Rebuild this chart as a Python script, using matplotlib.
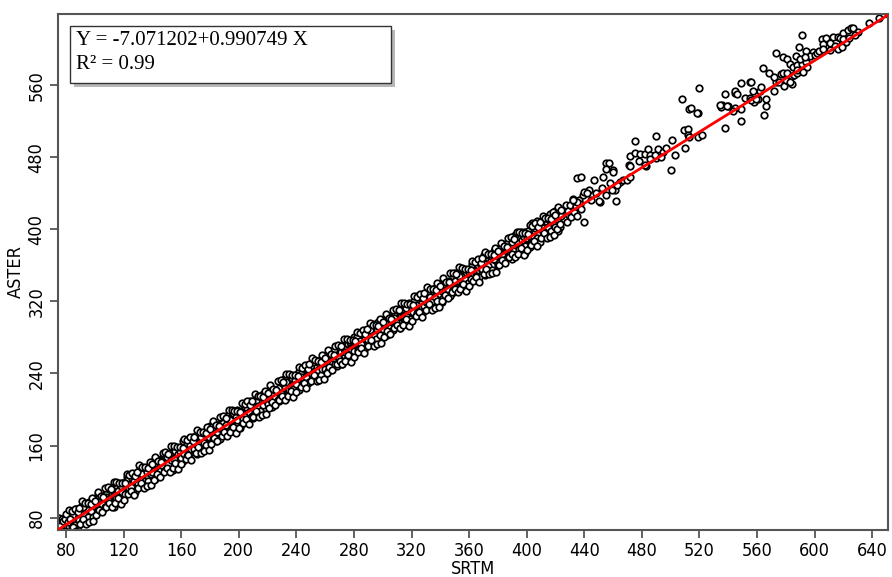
import matplotlib
matplotlib.use("Agg")
import matplotlib.pyplot as plt
from matplotlib.patches import Rectangle
from matplotlib import font_manager

# ---------------- data ----------------
intercept = -7.071202
slope = 0.990749
r2_text = "R\u00b2 = 0.99"
eq_text = "Y = -7.071202+0.990749 X"

x_ticks = [80, 120, 160, 200, 240, 280, 320, 360, 400, 440, 480, 520, 560, 600, 640]
y_ticks = [80, 160, 240, 320, 400, 480, 560]

# dense band: SRTM values 75..439
srtm_band = [
    75, 76, 77, 78, 79, 80, 81, 82, 83, 84, 85, 86, 87, 88, 89, 90, 91, 92, 93, 94,
    95, 96, 97, 98, 99, 100, 101, 102, 103, 104, 105, 106, 107, 108, 109, 110, 111, 112, 113, 114,
    115, 116, 117, 118, 119, 120, 121, 122, 123, 124, 125, 126, 127, 128, 129, 130, 131, 132, 133, 134,
    135, 136, 137, 138, 139, 140, 141, 142, 143, 144, 145, 146, 147, 148, 149, 150, 151, 152, 153, 154,
    155, 156, 157, 158, 159, 160, 161, 162, 163, 164, 165, 166, 167, 168, 169, 170, 171, 172, 173, 174,
    175, 176, 177, 178, 179, 180, 181, 182, 183, 184, 185, 186, 187, 188, 189, 190, 191, 192, 193, 194,
    195, 196, 197, 198, 199, 200, 201, 202, 203, 204, 205, 206, 207, 208, 209, 210, 211, 212, 213, 214,
    215, 216, 217, 218, 219, 220, 221, 222, 223, 224, 225, 226, 227, 228, 229, 230, 231, 232, 233, 234,
    235, 236, 237, 238, 239, 240, 241, 242, 243, 244, 245, 246, 247, 248, 249, 250, 251, 252, 253, 254,
    255, 256, 257, 258, 259, 260, 261, 262, 263, 264, 265, 266, 267, 268, 269, 270, 271, 272, 273, 274,
    275, 276, 277, 278, 279, 280, 281, 282, 283, 284, 285, 286, 287, 288, 289, 290, 291, 292, 293, 294,
    295, 296, 297, 298, 299, 300, 301, 302, 303, 304, 305, 306, 307, 308, 309, 310, 311, 312, 313, 314,
    315, 316, 317, 318, 319, 320, 321, 322, 323, 324, 325, 326, 327, 328, 329, 330, 331, 332, 333, 334,
    335, 336, 337, 338, 339, 340, 341, 342, 343, 344, 345, 346, 347, 348, 349, 350, 351, 352, 353, 354,
    355, 356, 357, 358, 359, 360, 361, 362, 363, 364, 365, 366, 367, 368, 369, 370, 371, 372, 373, 374,
    375, 376, 377, 378, 379, 380, 381, 382, 383, 384, 385, 386, 387, 388, 389, 390, 391, 392, 393, 394,
    395, 396, 397, 398, 399, 400, 401, 402, 403, 404, 405, 406, 407, 408, 409, 410, 411, 412, 413, 414,
    415, 416, 417, 418, 419, 420, 421, 422, 423, 424, 425, 426, 427, 428, 429, 430, 431, 432, 433, 434,
    435, 436, 437, 438, 439,
]

aster_band_a = [
    70, 66, 75, 66, 72, 80, 67, 76, 74, 81,
    74, 85, 81, 71, 85, 81, 93, 79, 86, 92,
    89, 84, 97, 89, 96, 85, 96, 106, 92, 96,
    101, 90, 100, 106, 98, 112, 94, 102, 92, 113,
    113, 107, 111, 100, 119, 108, 114, 125, 111, 118,
    118, 126, 115, 123, 113, 127, 122, 136, 121, 130,
    134, 126, 133, 121, 133, 142, 127, 139, 133, 138,
    138, 130, 147, 135, 144, 139, 145, 133, 151, 145,
    151, 144, 149, 157, 144, 154, 143, 160, 153, 165,
    159, 152, 165, 158, 169, 153, 164, 159, 170, 166,
    164, 173, 169, 160, 174, 182, 166, 175, 173, 182,
    180, 169, 184, 179, 177, 190, 176, 186, 196, 183,
    193, 184, 190, 183, 200, 190, 196, 184, 199, 193,
    197, 191, 206, 196, 204, 191, 208, 205, 199, 214,
    210, 205, 217, 202, 211, 217, 208, 216, 203, 220,
    222, 216, 221, 210, 228, 213, 224, 235, 213, 225,
    228, 235, 223, 230, 221, 237, 230, 237, 227, 245,
    241, 234, 248, 230, 242, 240, 248, 238, 247, 235,
    248, 239, 248, 257, 244, 255, 240, 253, 259, 252,
    261, 254, 261, 248, 268, 261, 256, 265, 260, 272,
    267, 273, 261, 272, 265, 281, 263, 273, 278, 270,
    279, 271, 279, 287, 270, 286, 280, 285, 277, 294,
    286, 292, 283, 291, 281, 299, 289, 297, 283, 296,
    303, 293, 302, 292, 300, 311, 296, 304, 304, 310,
    308, 300, 316, 306, 313, 302, 317, 313, 308, 326,
    320, 314, 318, 308, 326, 323, 315, 329, 322, 328,
    327, 335, 320, 332, 324, 334, 319, 331, 339, 330,
    341, 332, 340, 329, 340, 352, 334, 344, 343, 352,
    348, 338, 354, 345, 353, 339, 352, 358, 348, 354,
    363, 352, 358, 349, 364, 359, 349, 364, 368, 358,
    366, 360, 376, 366, 375, 360, 374, 368, 384, 367,
    371, 383, 369, 381, 379, 367, 390, 380, 388, 375,
    391, 381, 388, 397, 381, 394, 389, 380, 394, 407,
    397, 386, 409, 394, 404, 400, 393, 414, 401, 408,
    412, 400, 408, 396, 414, 420, 406, 411, 403, 417,
    420, 411, 427, 408, 420, 427, 414, 434, 419, 426, 415, 433, 428, 423, 438,
]

aster_band_b = [
    66, 72, 68, 79, 67, 72, 77, 71, 82, 68,
    82, 72, 90, 80, 77, 85, 75, 92, 83, 75,
    81, 97, 87, 94, 81, 98, 92, 89, 102, 99,
    95, 103, 92, 103, 101, 98, 113, 95, 109, 105,
    102, 110, 99, 115, 109, 119, 106, 118, 124, 113,
    114, 124, 121, 109, 128, 117, 132, 124, 128, 119,
    121, 131, 121, 135, 128, 131, 140, 123, 145, 131,
    132, 143, 137, 150, 133, 147, 140, 152, 144, 133,
    145, 154, 138, 151, 154, 146, 165, 151, 160, 148,
    149, 161, 156, 169, 156, 162, 151, 171, 161, 170,
    174, 163, 161, 172, 169, 176, 181, 167, 178, 165,
    175, 179, 167, 186, 185, 177, 183, 174, 190, 188,
    181, 196, 180, 192, 188, 197, 180, 194, 190, 203,
    194, 202, 197, 210, 193, 204, 198, 210, 204, 196,
    198, 214, 205, 211, 220, 206, 220, 212, 218, 209,
    213, 221, 211, 224, 218, 230, 212, 224, 231, 220,
    222, 226, 235, 223, 233, 228, 241, 222, 239, 236,
    230, 245, 236, 243, 231, 248, 239, 253, 243, 247,
    244, 252, 238, 245, 256, 245, 255, 243, 253, 265,
    251, 266, 250, 260, 258, 252, 264, 250, 267, 264,
    256, 263, 275, 267, 275, 265, 274, 281, 266, 276,
    273, 284, 266, 279, 284, 277, 288, 275, 295, 283,
    278, 289, 297, 283, 291, 289, 298, 283, 297, 291,
    290, 298, 288, 302, 297, 293, 310, 291, 310, 304,
    304, 313, 303, 318, 300, 312, 308, 320, 316, 307,
    307, 327, 314, 324, 315, 319, 329, 317, 325, 315,
    320, 325, 332, 320, 338, 328, 332, 324, 330, 341,
    334, 343, 326, 340, 333, 343, 350, 334, 348, 341,
    341, 355, 345, 353, 340, 353, 345, 362, 352, 344,
    348, 360, 347, 360, 356, 371, 361, 354, 359, 371,
    370, 355, 367, 375, 372, 372, 363, 380, 373, 378,
    379, 376, 387, 371, 381, 386, 376, 394, 373, 385,
    378, 397, 388, 391, 374, 390, 398, 394, 390, 392,
    392, 401, 390, 406, 386, 403, 402, 393, 414, 402,
    403, 417, 398, 412, 405, 403, 418, 398, 417, 415,
]

# wider scatter of the band, SRTM 75..424
aster_band_c = [
    80, 71, 79, 76, 79, 84, 75, 88, 79, 87,
    70, 90, 65, 86, 91, 73, 98, 79, 96, 73,
    96, 75, 95, 102, 76, 99, 83, 108, 89, 104,
    86, 103, 113, 92, 114, 96, 112, 92, 120, 96,
    120, 102, 119, 95, 119, 100, 118, 128, 106, 127,
    110, 130, 105, 126, 131, 113, 138, 119, 136, 113,
    136, 115, 135, 142, 116, 139, 122, 147, 128, 143,
    125, 142, 152, 131, 153, 135, 151, 131, 159, 135,
    159, 141, 158, 134, 158, 139, 157, 167, 145, 166,
    149, 169, 144, 165, 170, 152, 177, 158, 175, 152,
    175, 154, 174, 181, 155, 178, 162, 187, 168, 183,
    165, 182, 192, 171, 193, 175, 191, 171, 199, 175,
    199, 181, 198, 174, 198, 179, 197, 207, 185, 206,
    189, 209, 184, 205, 210, 192, 217, 198, 215, 192,
    215, 194, 214, 221, 195, 218, 202, 227, 208, 223,
    205, 222, 232, 211, 233, 215, 231, 211, 239, 215,
    239, 221, 238, 214, 238, 219, 237, 247, 225, 246,
    229, 249, 224, 245, 250, 232, 257, 238, 255, 232,
    254, 233, 253, 260, 234, 257, 241, 266, 247, 262,
    244, 261, 271, 250, 272, 254, 270, 250, 278, 254,
    278, 260, 277, 253, 277, 258, 276, 286, 264, 285,
    268, 288, 263, 284, 289, 271, 296, 277, 294, 271,
    294, 273, 293, 300, 274, 297, 281, 306, 287, 302,
    284, 301, 311, 290, 312, 294, 310, 290, 318, 294,
    318, 300, 317, 293, 317, 298, 316, 326, 304, 325,
    308, 328, 303, 324, 329, 311, 336, 317, 334, 311,
    334, 313, 333, 340, 314, 337, 321, 346, 327, 342,
    324, 341, 351, 330, 352, 334, 350, 330, 358, 334,
    357, 339, 356, 332, 356, 337, 355, 365, 343, 364,
    347, 367, 342, 363, 368, 350, 375, 356, 373, 350,
    373, 352, 372, 379, 353, 376, 360, 385, 366, 381,
    363, 380, 390, 369, 391, 373, 389, 369, 397, 373,
    397, 379, 396, 372, 396, 377, 395, 405, 383, 404,
    387, 407, 382, 403, 408, 390, 415, 396, 413, 390,
    413, 392, 412, 419, 394, 416, 400, 425, 406, 421,
]

# sparse upper part of the cloud
srtm_sparse = [
    435, 438, 447, 453, 455, 457, 455, 460, 460, 462, 461, 451, 450, 459, 455, 440, 443, 442, 433, 435,
    432, 440, 445, 448, 452, 465, 467, 463, 470, 458,
    472, 475, 479, 482, 484, 486, 491, 490, 489, 471, 472, 483, 482, 475, 490, 472, 478, 486, 495, 497, 493,
    501, 503, 500, 508, 510, 509, 512, 512, 513, 519, 522, 513, 519, 518, 520, 514, 538, 536, 540, 535,
    538, 534, 539,
    545, 545, 546, 549, 555, 556, 564, 568, 552, 555, 557, 561, 562, 563, 566, 566, 565, 549, 545, 543,
    549, 572, 573, 578, 577, 578, 573, 575, 579, 572, 558, 556, 559,
    581, 583, 585, 588, 591, 594, 595, 589, 587, 581, 584, 586, 588, 580, 584, 583, 591, 594, 599, 597,
    600, 602, 603, 588, 592, 590, 593,
    605, 608, 613, 616, 618, 606, 611, 614, 619, 622, 606, 611, 616, 619, 620, 623, 625, 627, 620, 624,
    638, 651, 645, 630, 628,
]
aster_sparse = [
    457, 458, 455, 458, 474, 474, 467, 466, 464, 432, 444, 430, 431, 444, 438, 441, 444, 440, 432, 430,
    433, 408, 433, 440, 446, 452, 455, 449, 455, 451,
    481, 485, 484, 484, 489, 483, 489, 479, 483, 471, 470, 470, 471, 498, 504, 458, 476, 478, 486, 490, 480,
    499, 482, 466, 545, 490, 510, 511, 505, 503, 503, 505, 534, 529, 529, 557, 535, 513, 538, 537, 536,
    550, 538, 537,
    551, 554, 550, 562, 564, 564, 579, 573, 546, 546, 553, 545, 553, 558, 545, 537, 527, 534, 535, 531,
    520, 553, 596, 591, 572, 574, 563, 563, 559, 569, 541, 543, 545,
    589, 584, 580, 582, 584, 586, 580, 602, 592, 573, 570, 571, 573, 566, 561, 564, 616, 598, 597, 592,
    594, 596, 598, 577, 575, 589, 591,
    611, 612, 614, 613, 612, 606, 607, 604, 606, 608, 600, 599, 600, 602, 618, 621, 623, 624, 611, 612,
    629, 639, 635, 619, 616,
]

# ---------------- fonts ----------------
def pick_narrow():
    for f in font_manager.fontManager.ttflist:
        if ("Narrow" in f.name or "Condensed" in f.name or "condensed" in str(f.stretch)) \
                and f.style == "normal" and f.weight in (400, "normal", "regular"):
            return f.fname
    return None

narrow_file = pick_narrow()
tick_size = 13
if narrow_file:
    tick_fp = font_manager.FontProperties(fname=narrow_file, size=tick_size)
else:
    tick_fp = font_manager.FontProperties(family=["Liberation Sans", "DejaVu Sans"], size=tick_size)

# ---------------- figure ----------------
W, H = 892, 577
fig = plt.figure(figsize=(W / 100, H / 100), dpi=100)
fig.patch.set_facecolor("white")

L, R, T, B = 58, 888, 14, 530
ax = fig.add_axes([L / W, 1 - B / H, (R - L) / W, (B - T) / H])
x_min, x_max = 74.4, 651.0
ax.set_xlim(x_min, x_max)
ax.set_ylim(66.3, 639.0)

srtm_all = (srtm_band + srtm_band[:len(aster_band_b)] + srtm_band[:len(aster_band_c)]
            + srtm_sparse)
aster_all = aster_band_a + aster_band_b + aster_band_c + aster_sparse
ax.scatter(srtm_all, aster_all, s=22, facecolors="white", edgecolors="black",
           linewidths=1.25, zorder=2)

line_x = [x_min, x_max]
line_y = [intercept + slope * v for v in line_x]
ax.plot(line_x, line_y, color="red", lw=2.0, zorder=3)

for sp in ax.spines.values():
    sp.set_color("#555555")
    sp.set_linewidth(1.5)

ax.set_xticks(x_ticks)
ax.set_yticks(y_ticks)
ax.tick_params(direction="out", length=6, width=1.3, color="#555555", pad=3)
for lab in ax.get_xticklabels():
    lab.set_fontproperties(tick_fp)
for lab in ax.get_yticklabels():
    lab.set_fontproperties(tick_fp)
    lab.set_rotation(90)
    lab.set_va("center")

ax.set_xlabel("SRTM", fontproperties=tick_fp, labelpad=-0.5)
ax.set_ylabel("ASTER", fontproperties=tick_fp, labelpad=2)

# equation box with drop shadow (figure pixel coordinates)
bx0, by0, bx1, by1 = 70, 26, 391, 83
shadow = Rectangle(((bx0 + 4) / W, 1 - (by1 + 4) / H), (bx1 - bx0) / W, (by1 - by0) / H,
                   transform=fig.transFigure, facecolor="#9a9a9a", edgecolor="none",
                   alpha=0.7, zorder=5)
box = Rectangle((bx0 / W, 1 - by1 / H), (bx1 - bx0) / W, (by1 - by0) / H,
                transform=fig.transFigure, facecolor="white", edgecolor="#333333",
                lw=1.0, zorder=6)
fig.add_artist(shadow)
fig.add_artist(box)
serif = ["Liberation Serif", "DejaVu Serif"]
fig.text(76 / W, 1 - 45 / H, eq_text, family=serif, fontsize=15, va="baseline",
         ha="left", zorder=7)
fig.text(76 / W, 1 - 69 / H, r2_text, family=serif, fontsize=15, va="baseline",
         ha="left", zorder=7)

fig.savefig("out.png", dpi=100)
